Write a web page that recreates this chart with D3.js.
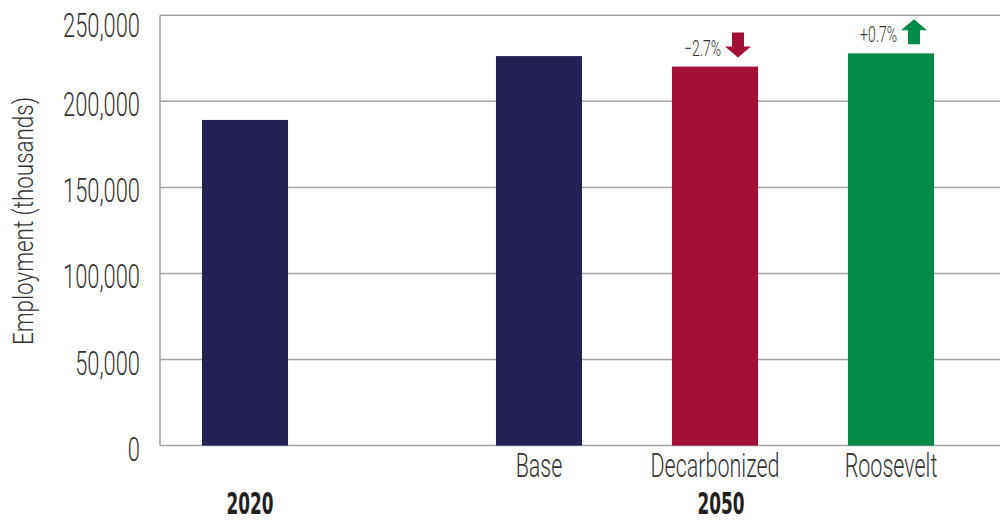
<!DOCTYPE html>
<html>
<head>
<meta charset="utf-8">
<script src="https://cdn.jsdelivr.net/npm/d3@7"></script>
<style>
  html, body { margin: 0; padding: 0; background: #fff; }
  svg { display: block; }
  text { font-family: Roboto, "DejaVu Sans Condensed", "Liberation Sans", sans-serif; font-weight: 300; }
  text.year { font-family: "DejaVu Sans Condensed", "Liberation Sans", sans-serif; font-weight: bold; }
</style>
</head>
<body>
<svg id="chart" width="1005" height="521"></svg>
<script>
// Employment totals (thousands)
const years = ["2020", "2050"];
const scenarios2050 = ["Base", "Decarbonized", "Roosevelt"];
const value2020 = 189200;
const values2050 = [226300, 220200, 227900];
const yTicks = [0, 50000, 100000, 150000, 200000, 250000];
const yTitle = "Employment (thousands)";

const colors = { "2020": "#232151", Base: "#232151", Decarbonized: "#a31038", Roosevelt: "#008a47" };
const gridColor = "#a3a3a3";
const textColor = "#333333";

const svg = d3.select("#chart");
const plot = { left: 160, right: 1000, top: 15.3, bottom: 445.6 };

const y = d3.scaleLinear().domain([0, 250000]).range([plot.bottom, plot.top]);

// Two band scales sharing the same step: one bar for 2020, three scenario bars for 2050
const x2050 = d3.scaleBand().domain(scenarios2050).range([451, 979])
  .paddingInner(0.511).paddingOuter(0.2555);
const x2020 = d3.scaleBand().domain(["2020"]).range([157, 333])
  .paddingInner(0.511).paddingOuter(0.2555);

// squeeze a text element horizontally to a given fraction of its natural width
function squeeze(sel, k) {
  sel.each(function () {
    const w = this.getComputedTextLength();
    d3.select(this).attr("textLength", w * k).attr("lengthAdjust", "spacingAndGlyphs");
  });
}

// Gridlines
svg.append("g").selectAll("line").data(yTicks).join("line")
  .attr("x1", plot.left).attr("x2", plot.right)
  .attr("y1", d => y(d)).attr("y2", d => y(d))
  .attr("stroke", gridColor).attr("stroke-width", 1.5);

// Left axis line
svg.append("line")
  .attr("x1", plot.left).attr("x2", plot.left)
  .attr("y1", y(250000)).attr("y2", y(0))
  .attr("stroke", gridColor).attr("stroke-width", 1.5);

// Y tick labels
const fmt = d3.format(",");
const tickLabels = svg.append("g").selectAll("text").data(yTicks).join("text")
  .attr("x", 140)
  .attr("y", d => y(d) + (d === 250000 ? 22 : 15))
  .attr("text-anchor", "end")
  .attr("font-size", 34)
  .attr("fill", textColor)
  .text(d => fmt(d));
{
  const ref = tickLabels.filter(d => d === 250000).node().getComputedTextLength();
  squeeze(tickLabels, 77 / ref);
}

// Y axis title
const title = svg.append("text")
  .attr("transform", `translate(33,221) rotate(-90)`)
  .attr("text-anchor", "middle")
  .attr("font-size", 28)
  .attr("fill", textColor)
  .text(yTitle);
squeeze(title, 248 / title.node().getComputedTextLength());

// Bars
svg.append("rect")
  .attr("x", x2020("2020")).attr("width", x2020.bandwidth())
  .attr("y", y(value2020)).attr("height", y(0) - y(value2020))
  .attr("fill", colors["2020"]);

const bars2050 = scenarios2050.map((s, i) => ({ s, v: values2050[i] }));
svg.append("g").selectAll("rect").data(bars2050).join("rect")
  .attr("x", d => x2050(d.s)).attr("width", x2050.bandwidth())
  .attr("y", d => y(d.v)).attr("height", d => y(0) - y(d.v))
  .attr("fill", d => colors[d.s]);

// Scenario labels
const catLabels = svg.append("g").selectAll("text").data(scenarios2050).join("text")
  .attr("x", d => x2050(d) + x2050.bandwidth() / 2)
  .attr("y", 477)
  .attr("text-anchor", "middle")
  .attr("font-size", 33)
  .attr("fill", textColor)
  .text(d => d);
{
  const ref = catLabels.filter(d => d === "Decarbonized").node().getComputedTextLength();
  squeeze(catLabels, 129 / ref);
}

// Year labels
const yearX = { "2020": x2020("2020") + x2020.bandwidth() / 2 + 5, "2050": x2050("Decarbonized") + x2050.bandwidth() / 2 + 6 };
const yearLabels = svg.append("g").selectAll("text").data(years).join("text")
  .attr("class", "year")
  .attr("x", d => yearX[d])
  .attr("y", 513.5)
  .attr("text-anchor", "middle")
  .attr("font-size", 30)
  .attr("fill", "#231f20")
  .text(d => d);
{
  const ref = yearLabels.filter(d => d === "2020").node().getComputedTextLength();
  squeeze(yearLabels, 47 / ref);
}

// Change vs. Base, with arrows
const base = values2050[0];
const pct = d3.format("+.1%");
const changes = bars2050.slice(1).map(d => ({ ...d, change: d.v / base - 1 }));

const ann = svg.append("g").selectAll("g").data(changes).join("g")
  .attr("transform", d => `translate(${x2050(d.s) + x2050.bandwidth() / 2 + 23},${y(d.v)})`);

// arrow: 25px tall, sitting 9px above the bar
ann.append("path")
  .attr("d", d => {
    const sw = 6, hw = 13, hl = 11, top = -34, bot = -9;
    if (d.change < 0) {
      return `M${-sw},${top}L${sw},${top}L${sw},${bot - hl}L${hw},${bot - hl}L0,${bot}L${-hw},${bot - hl}L${-sw},${bot - hl}Z`;
    }
    return `M${-sw},${bot}L${sw},${bot}L${sw},${top + hl}L${hw},${top + hl}L0,${top}L${-hw},${top + hl}L${-sw},${top + hl}Z`;
  })
  .attr("fill", d => colors[d.s]);

const annText = ann.append("text")
  .attr("x", -17)
  .attr("y", -11)
  .attr("text-anchor", "end")
  .attr("font-size", 22)
  .attr("fill", textColor)
  .text(d => pct(d.change));
{
  const ref = annText.filter(d => d.s === "Decarbonized").node().getComputedTextLength();
  squeeze(annText, 37 / ref);
}
</script>
</body>
</html>
